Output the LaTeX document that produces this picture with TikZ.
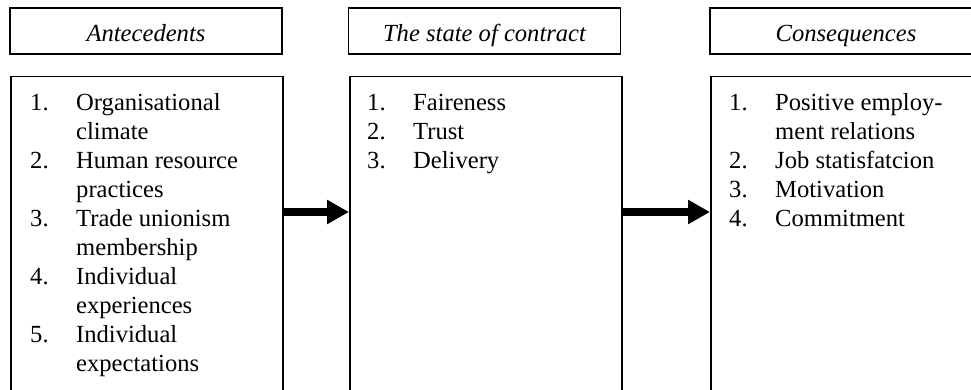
\documentclass[tikz,border=0pt]{standalone}
\usepackage{fontspec}
\setmainfont{Liberation Serif}
\usetikzlibrary{arrows.meta}
\begin{document}
\begin{tikzpicture}[x=1pt,y=-1pt,
  head/.style={draw,line width=1.8pt,minimum width=272pt,minimum height=46pt,inner sep=0pt,
    text height=22pt,text depth=0pt,font=\fontsize{24.6}{29}\selectfont\itshape},
  body/.style={draw,line width=1.5pt,minimum width=272pt,minimum height=360pt,inner sep=0pt,anchor=north west},
  list/.style={anchor=north west,inner sep=0pt,align=left,font=\fontsize{24.6}{29}\selectfont},
  arr/.style={line width=8pt,-{Triangle[length=22pt,width=23pt]}}]
\useasboundingbox (0,0) rectangle (971,390);
\clip (0,0) rectangle (971,390);
\node[head] (h1) at (146,31) {Antecedents};
\node[head] (h2) at (484.5,31) {The state of contract};
\node[head] (h3) at (846,31) {Consequences};
\node[body] (b1) at (10,76) {};
\node[body] (b2) at (349,76) {};
\node[body] (b3) at (710,76) {};
\node[list] (l1) at (30,89.7) {\begin{tabular}{@{}p{46pt}@{}l@{}}
1. & Organisational\\
   & climate\\
2. & Human resource\\
   & practices\\
3. & Trade unionism\\
   & membership\\
4. & Individual\\
   & experiences\\
5. & Individual\\
   & expectations
\end{tabular}};
\node[list] (l2) at (367,89.7) {\begin{tabular}{@{}p{46pt}@{}l@{}}
1. & Faireness\\
2. & Trust\\
3. & Delivery
\end{tabular}};
\node[list] (l3) at (729,89.7) {\begin{tabular}{@{}p{46pt}@{}l@{}}
1. & Positive employ-\\
   & ment relations\\
2. & Job statisfatcion\\
3. & Motivation\\
4. & Commitment
\end{tabular}};
\draw[arr] ([yshift=-136pt]b1.north east) -- ([yshift=-136pt]b2.north west);
\draw[arr] ([yshift=-136pt]b2.north east) -- ([yshift=-136pt]b3.north west);
\end{tikzpicture}
\end{document}
